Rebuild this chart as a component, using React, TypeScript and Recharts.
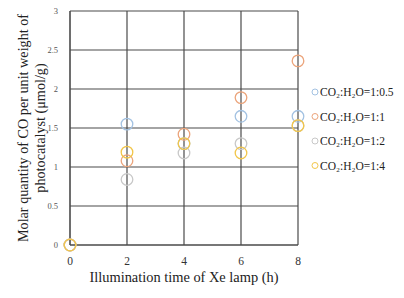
import React from "react";
import { ScatterChart, Scatter, XAxis, YAxis, CartesianGrid } from "recharts";

const hours = [0, 2, 4, 6, 8];
const ratio05 = [0, 1.55, 1.3, 1.65, 1.65];
const ratio1 = [0, 1.08, 1.42, 1.89, 2.36];
const ratio2 = [0, 0.84, 1.18, 1.3, 1.53];
const ratio4 = [0, 1.19, 1.3, 1.18, 1.53];
const yTicks = [0, 0.5, 1, 1.5, 2, 2.5, 3];

const seriesList = [
  { name: "CO₂:H₂O=1:0.5", values: ratio05, color: "#a3c2e2" },
  { name: "CO₂:H₂O=1:1", values: ratio1, color: "#eba47b" },
  { name: "CO₂:H₂O=1:2", values: ratio2, color: "#c8c8c8" },
  { name: "CO₂:H₂O=1:4", values: ratio4, color: "#f2c64a" },
];

const serif = "'Liberation Serif', 'Times New Roman', serif";

const ringShape = (color: string) => (props: any) => (
  <circle cx={props.cx} cy={props.cy} r={5.8} fill="none" stroke={color} strokeWidth={1.3} />
);

export default function App() {
  return (
    <div style={{ position: "absolute", left: 0, top: 0, width: 404, height: 298, background: "#fff" }}>
      <ScatterChart width={404} height={298} margin={{ top: 11, right: 106, bottom: 23, left: 40 }}>
        <CartesianGrid stroke="#4a4a4a" strokeWidth={1.2} />
        <XAxis
          type="number"
          dataKey="x"
          domain={[0, 8]}
          ticks={hours}
          height={30}
          axisLine={{ stroke: "#4a4a4a" }}
          tickLine={false}
          tick={{ fill: "#333", fontSize: 11.5, fontFamily: serif }}
          tickMargin={6}
        />
        <YAxis
          type="number"
          dataKey="y"
          domain={[0, 3]}
          ticks={yTicks}
          width={30}
          axisLine={{ stroke: "#4a4a4a" }}
          tickLine={false}
          tick={{ fill: "#555", fontSize: 8.5, fontFamily: serif }}
          tickMargin={6}
        />
        {seriesList.map((s) => (
          <Scatter
            key={s.name}
            name={s.name}
            data={hours.map((h, i) => ({ x: h, y: s.values[i] }))}
            shape={ringShape(s.color)}
            isAnimationActive={false}
          />
        ))}
      </ScatterChart>
      <svg width={404} height={298} style={{ position: "absolute", left: 0, top: 0, pointerEvents: "none" }}>
        <text x={184} y={282} textAnchor="middle" fontSize={14.4} fontFamily={serif} fill="#222">
          Illumination time of Xe lamp (h)
        </text>
        <g transform="translate(28,128) rotate(-90)">
          <text x={0} y={0} textAnchor="middle" fontSize={14.2} fontFamily={serif} fill="#222">
            Molar quantity of CO per unit weight of
          </text>
          <text x={0} y={17} textAnchor="middle" fontSize={14.2} fontFamily={serif} fill="#222">
            photocatalyst (μmol/g)
          </text>
        </g>
        {seriesList.map((s, i) => (
          <g key={s.name} transform={`translate(0,${92 + i * 24.5})`}>
            <circle cx={315} cy={0} r={3} fill="none" stroke={s.color} strokeWidth={1} />
            <text x={320} y={4} fontSize={11.5} fontFamily={serif} fill="#222">
              {s.name}
            </text>
          </g>
        ))}
      </svg>
    </div>
  );
}
